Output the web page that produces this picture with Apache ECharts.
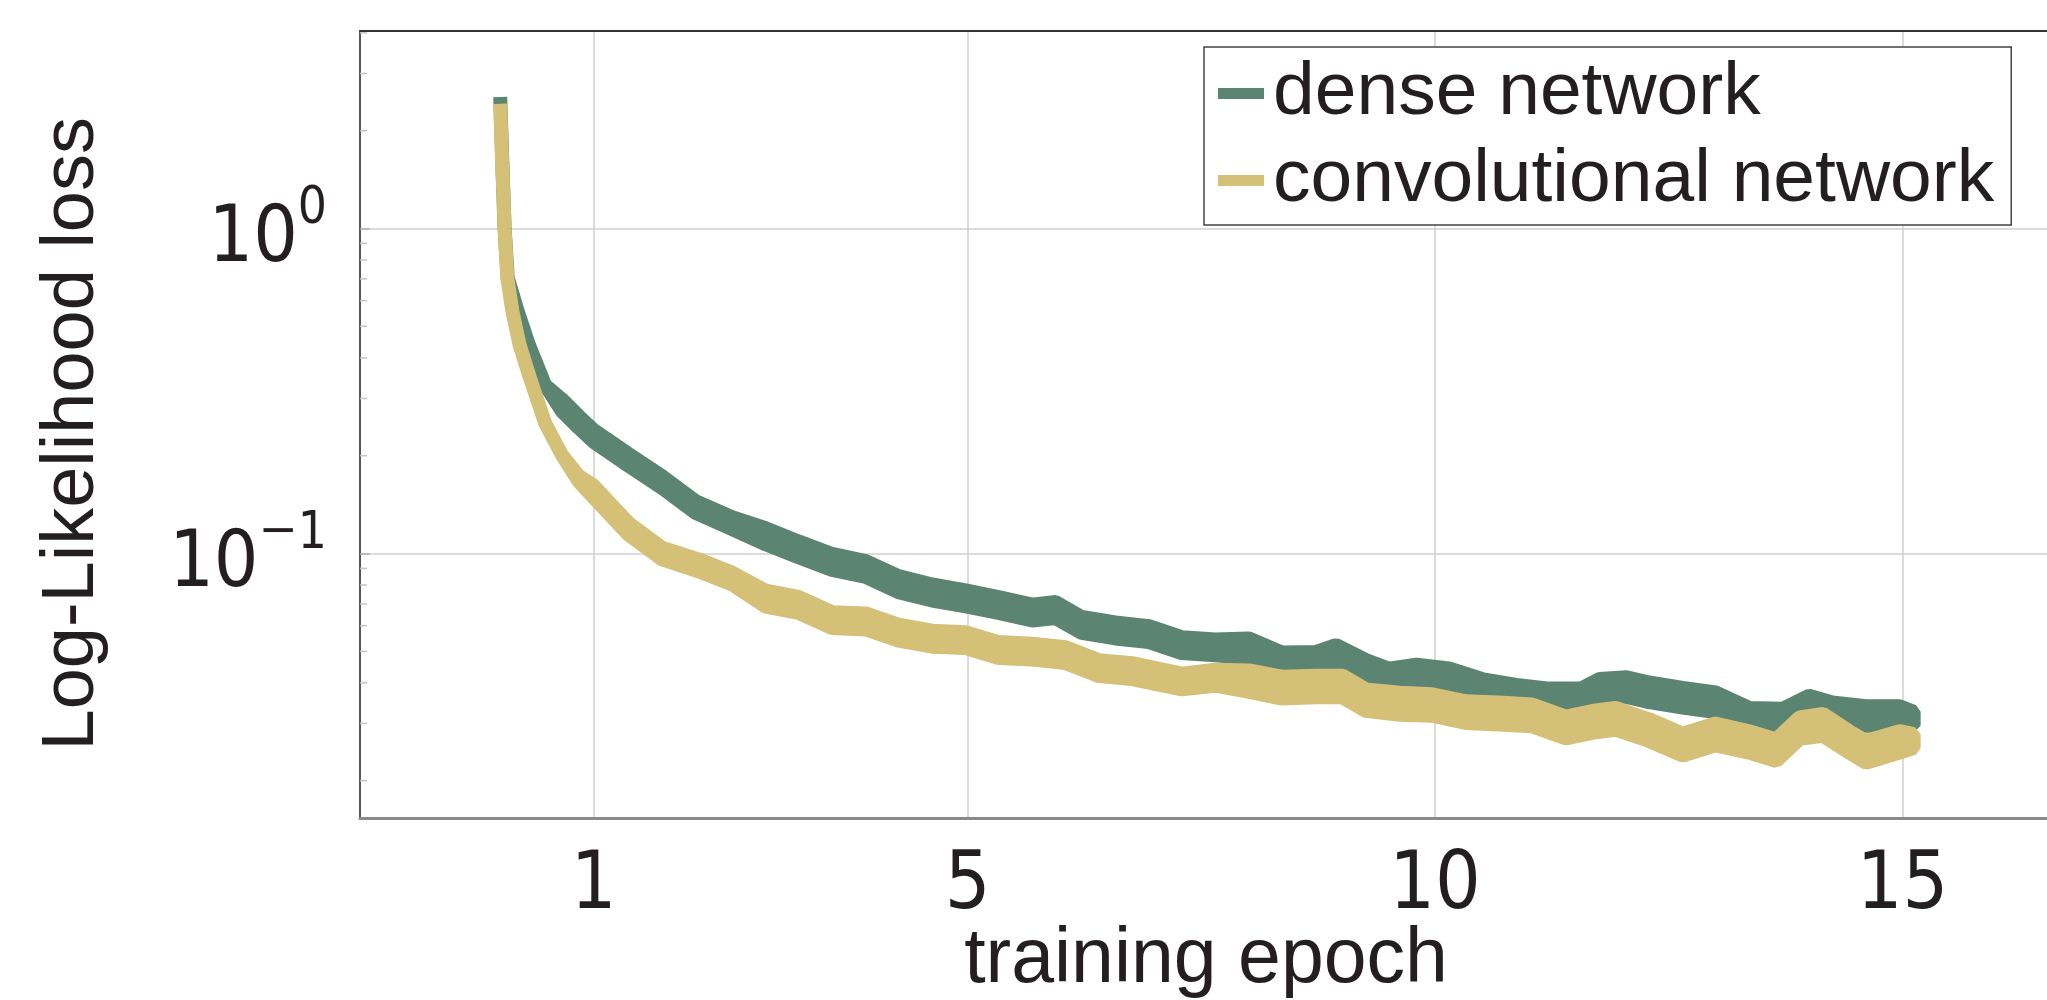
<!DOCTYPE html>
<html>
<head>
<meta charset="utf-8">
<script src="https://cdn.jsdelivr.net/npm/echarts@6/dist/echarts.min.js"></script>
<style>
  html, body { margin: 0; padding: 0; background: #ffffff; }
  #chart { width: 2047px; height: 1000px; }
</style>
</head>
<body>
<div id="chart"></div>
<script>
// ---------------- data ----------------
const seriesNames = ['dense network', 'convolutional network'];
const xTickValues = [1, 5, 10, 15];
const yMinorTickValues = [0.02, 0.03, 0.04, 0.05, 0.06, 0.07, 0.08, 0.09,
                          0.2, 0.3, 0.4, 0.5, 0.6, 0.7, 0.8, 0.9, 2, 3, 4];

// dense network: epoch, upper edge and lower edge of the noisy loss band
const denseEpochs = [0, 0.024, 0.047, 0.08, 0.187, 0.304, 0.48, 0.66, 0.84, 1.0, 1.375, 1.73, 2.09, 2.48,
  2.84, 3.19, 3.55, 3.91, 4.26, 4.62, 4.98, 5.33, 5.69, 5.94, 6.22, 6.58, 6.94, 7.29, 7.65, 8.01, 8.36,
  8.73, 8.94, 9.26, 9.51, 9.80, 10.15, 10.5, 10.87, 11.22, 11.57, 11.76, 12.05, 12.29, 12.65, 13.0, 13.36,
  13.72, 14.0, 14.25, 14.61, 14.97, 15.12];
const denseHigh = [2.54, 1.55, 1.0, 0.705, 0.557, 0.441, 0.33, 0.2983, 0.2649, 0.2399, 0.2023, 0.1731, 0.145, 0.1293,
  0.1196, 0.109, 0.0997, 0.0948, 0.0852, 0.0803, 0.077, 0.0735, 0.0696, 0.0709, 0.0638, 0.0614, 0.0598, 0.0553, 0.0544,
  0.0548, 0.0496, 0.0498, 0.0523, 0.047, 0.0442, 0.0455, 0.0443, 0.0411, 0.0394, 0.0384, 0.0385, 0.0411, 0.0416, 0.0401,
  0.0386, 0.0374, 0.0335, 0.0333, 0.0365, 0.0348, 0.0339, 0.0339, 0.0326];
const denseLow = [2.54, 1.55, 1.0, 0.705, 0.557, 0.441, 0.33, 0.2742, 0.2435, 0.2205, 0.186, 0.1592, 0.1333, 0.1189,
  0.1068, 0.0974, 0.089, 0.0847, 0.0761, 0.0717, 0.0688, 0.0657, 0.0622, 0.0633, 0.057, 0.0548, 0.0534, 0.0494, 0.0486,
  0.0476, 0.0431, 0.0432, 0.0454, 0.0408, 0.0384, 0.0395, 0.0385, 0.0357, 0.0342, 0.0334, 0.0335, 0.0357, 0.0362, 0.0349,
  0.0336, 0.0325, 0.0291, 0.0289, 0.0317, 0.0302, 0.0295, 0.0295, 0.0295];

// convolutional network
const convEpochs = [0, 0.02, 0.047, 0.076, 0.13, 0.205, 0.315, 0.48, 0.66, 0.84, 1.0, 1.375, 1.73, 2.12, 2.48,
  2.84, 3.19, 3.55, 3.91, 4.26, 4.62, 4.98, 5.33, 5.69, 6.05, 6.40, 6.76, 7.29, 7.65, 8.01, 8.36, 8.73,
  9.01, 9.26, 9.62, 9.97, 10.33, 10.68, 11.04, 11.4, 11.72, 11.93, 12.29, 12.65, 13.0, 13.36, 13.65, 13.9,
  14.15, 14.43, 14.61, 14.97, 15.12];
const convHigh = [2.42, 1.6, 1.0, 0.705, 0.557, 0.441, 0.349, 0.252, 0.201, 0.1734, 0.1617, 0.1241, 0.1043, 0.096, 0.0874,
  0.0769, 0.0735, 0.066, 0.0654, 0.0604, 0.0579, 0.0573, 0.0534, 0.0528, 0.0515, 0.047, 0.046, 0.0427, 0.0439,
  0.0437, 0.0418, 0.0421, 0.0421, 0.0382, 0.0373, 0.0369, 0.0351, 0.0348, 0.0343, 0.0315, 0.0329, 0.0335, 0.0309,
  0.0279, 0.03, 0.0284, 0.0268, 0.0313, 0.0321, 0.0284, 0.0265, 0.0284, 0.0278];
const convLow = [2.42, 1.6, 1.0, 0.705, 0.557, 0.441, 0.349, 0.252, 0.201, 0.1667, 0.1486, 0.1141, 0.0959, 0.0882, 0.0803,
  0.0687, 0.0657, 0.059, 0.0584, 0.054, 0.0517, 0.0512, 0.0477, 0.0472, 0.046, 0.042, 0.0411, 0.0382, 0.0392,
  0.0375, 0.0358, 0.0361, 0.0361, 0.0328, 0.0319, 0.0317, 0.0301, 0.0298, 0.0294, 0.027, 0.0282, 0.0287, 0.0265,
  0.0239, 0.0257, 0.0244, 0.023, 0.0269, 0.0275, 0.0244, 0.0227, 0.0244, 0.0252];

// ---------------- chart ----------------
const COLORS = ['#5b8472', '#d4c077'];
const TEXT = '#231f20';
const X_MIN = -1.5, X_MAX = 16.6;
const Y_MIN = 0.0153, Y_MAX = 4.054;
const TICK_FONT = "'Liberation Sans Narrow', 'DejaVu Sans Condensed', sans-serif";
const TEXT_FONT = "'Liberation Sans', Arial, sans-serif";

function bandSeries(name, color, ep, hi, lo) {
  return {
    type: 'custom',
    name: name,
    coordinateSystem: 'cartesian2d',
    itemStyle: { color: color },
    data: ep.map((e, i) => [e, hi[i], lo[i]]),
    encode: { x: 0, y: 1 },
    silent: true,
    renderItem: function (params, api) {
      if (params.dataIndex !== 0) return null;
      const pts = [];
      for (let i = 0; i < ep.length; i++) pts.push(api.coord([ep[i], hi[i]]));
      for (let i = ep.length - 1; i >= 0; i--) pts.push(api.coord([ep[i], lo[i]]));
      return {
        type: 'polygon',
        shape: { points: pts },
        style: { fill: color, stroke: color, lineWidth: 14, lineJoin: 'bevel' }
      };
    }
  };
}

const chart = echarts.init(document.getElementById('chart'), null, { renderer: 'canvas' });
chart.setOption({
  animation: false,
  backgroundColor: '#ffffff',
  grid: { left: 360, right: -5, top: 31, bottom: 181.5, containLabel: false, outerBoundsMode: 'none' },
  legend: {
    data: seriesNames,
    orient: 'vertical',
    left: 1204,
    top: 47,
    padding: [9, 17, 7, 14],
    itemGap: 12,
    itemWidth: 46,
    itemHeight: 11,
    icon: 'rect',
    backgroundColor: '#ffffff',
    borderColor: '#444444',
    borderWidth: 1.5,
    borderRadius: 0,
    textStyle: { fontFamily: TEXT_FONT, fontSize: 75, lineHeight: 74, color: TEXT, padding: [0, 0, 0, 4] }
  },
  xAxis: [{
    type: 'value',
    min: X_MIN,
    max: X_MAX,
    position: 'bottom',
    name: 'training epoch',
    nameLocation: 'middle',
    nameGap: 104,
    nameMoveOverlap: false,
    nameTextStyle: { fontFamily: TEXT_FONT, fontSize: 77, color: TEXT, verticalAlign: 'top' },
    axisLine: { show: true, onZero: false, lineStyle: { color: '#8a8a8a', width: 3 } },
    axisTick: { show: false, customValues: xTickValues },
    axisLabel: {
      customValues: xTickValues,
      margin: 29,
      fontFamily: TICK_FONT, fontSize: 80, lineHeight: 80, color: TEXT
    },
    splitLine: { show: true, lineStyle: { color: '#cfcfcf', width: 1.5 } }
  }, {
    type: 'value',
    min: X_MIN,
    max: X_MAX,
    position: 'top',
    axisLine: { show: true, onZero: false, lineStyle: { color: '#333333', width: 2 } },
    axisTick: { show: false },
    axisLabel: { show: false },
    splitLine: { show: false }
  }],
  yAxis: {
    type: 'log',
    logBase: 10,
    min: Y_MIN,
    max: Y_MAX,
    name: 'Log-Likelihood loss',
    nameLocation: 'middle',
    nameRotate: 90,
    nameGap: 250,
    nameMoveOverlap: false,
    nameTextStyle: { fontFamily: TEXT_FONT, fontSize: 74, color: TEXT, padding: [0, 18, 0, 0] },
    axisLine: { show: true, onZero: false, lineStyle: { color: '#555555', width: 2 } },
    axisTick: { show: true, inside: true, length: 10, lineStyle: { color: '#b0b0b0', width: 1.5 } },
    axisLabel: {
      showMinLabel: false,
      showMaxLabel: false,
      margin: 33,
      align: 'right',
      width: 170,
      formatter: function (v) {
        const ex = Math.round(Math.log10(v));
        return ex < 0 ? '{b|10}{m|\u2212}{s|' + (-ex) + '}' : '{b|10}{s|' + ex + '}';
      },
      rich: {
        b: { fontFamily: TICK_FONT, fontSize: 78, lineHeight: 96, padding: [24, 0, 0, 0], align: 'right', color: TEXT },
        m: { fontFamily: "'DejaVu Sans', sans-serif", fontSize: 47, lineHeight: 56, verticalAlign: 'top', padding: [4, 0, 0, 0], align: 'right', color: TEXT },
        s: { fontFamily: TICK_FONT, fontSize: 51, lineHeight: 56, verticalAlign: 'top', padding: [4, 0, 0, 0], align: 'right', color: TEXT }
      }
    },
    splitLine: { show: true, lineStyle: { color: '#dcdcdc', width: 2 } }
  },
  series: [
    {
      type: 'custom',
      name: 'minor ticks',
      coordinateSystem: 'cartesian2d',
      silent: true,
      data: yMinorTickValues.map(v => [X_MIN, v]),
      encode: { x: 0, y: 1 },
      renderItem: function (params, api) {
        const y = api.coord([api.value(0), api.value(1)])[1];
        const x0 = params.coordSys.x;
        return { type: 'line', shape: { x1: x0, y1: y, x2: x0 + 7, y2: y },
                 style: { stroke: '#c4c4c4', lineWidth: 1.5 } };
      }
    },
    bandSeries(seriesNames[0], COLORS[0], denseEpochs, denseHigh, denseLow),
    bandSeries(seriesNames[1], COLORS[1], convEpochs, convHigh, convLow)
  ]
});
</script>
</body>
</html>
